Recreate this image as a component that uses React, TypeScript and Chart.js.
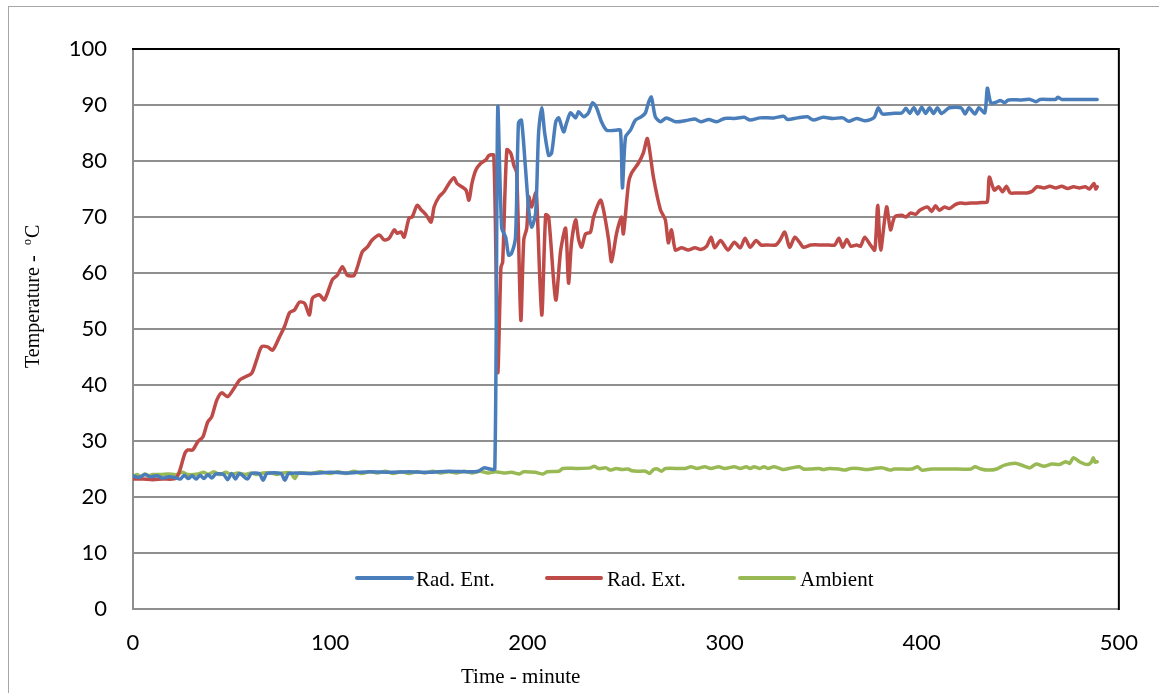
import React, { useEffect, useRef } from "react";
import { Chart, registerables } from "chart.js";
Chart.register(...registerables);

// ---- data ----
const seriesNames = ["Rad. Ent.", "Rad. Ext.", "Ambient"];
const seriesColors = ["#4A7EBB", "#BE4B48", "#98B954"];

const entTime = [
  0, 3, 6, 9, 12, 15, 18, 21, 24, 26, 28, 30, 32, 34, 36, 38, 40, 42, 46, 48, 50, 52, 54, 58, 60, 64, 66, 68, 75, 77, 79,
  90, 100, 110, 120, 130, 140, 150, 160, 170, 175, 178, 181, 183.5, 185, 187, 189, 190.5, 192, 194, 195.5, 197, 199,
  200.7, 202.2, 204.2, 205.7, 207.3, 208.8, 210.8, 212.3, 214.4, 215.9, 218.4, 219.9, 221.9, 224.5, 226, 228.5, 231,
  233.1, 235.1, 237.6, 240.2, 244.7, 247.2, 248.2, 249.8, 252.3, 254.8, 257.8, 259.9, 261.4, 262.9, 264.9, 267.5, 270.5,
  275.1, 281.6, 285, 288, 292, 296, 300, 305, 310, 313, 318, 325, 330, 332, 337, 342, 345, 350, 355, 360, 363, 367, 371,
  374, 376, 378, 380, 385, 390, 392, 394, 396, 398, 400, 402, 404, 406, 408, 410, 414, 420, 422, 424, 427, 429, 432,
  433.3, 435, 437, 440, 442, 444, 450, 455, 458, 460, 468, 469, 471, 480, 489,
];
const entTemp = [
  23.8, 23.5, 24, 23.6, 23.8, 23.4, 23.6, 23.5, 23.2, 23.9, 23.3, 23.8, 23.2, 23.9, 23.3, 24, 23.4, 24.1, 24, 23.1, 24.2,
  23.2, 24.2, 23.2, 24.2, 24.2, 23, 24.2, 24.2, 23, 24.2, 24.2, 24.4, 24.3, 24.5, 24.4, 24.5, 24.4, 24.6, 24.5, 24.6, 25.2,
  25, 25, 89.5, 68, 66.4, 63.2, 63.5, 66.4, 86.8, 87.3, 79, 71.3, 68.2, 70.7, 85, 89.5, 85, 81, 81.4, 87, 87.7, 85.2, 86.8,
  88.6, 87.7, 88.8, 87.9, 88.6, 90.4, 89.5, 87, 85.5, 85.5, 85.5, 75.2, 84.3, 85.5, 87.3, 87.9, 88.6, 90.4, 91.4, 87.9, 87,
  87.7, 87, 87.3, 87.5, 87, 87.4, 87, 87.6, 87.6, 87.8, 87.3, 87.7, 87.7, 88, 87.4, 87.7, 87.9, 87.3, 87.8, 87.6, 87.7,
  87.1, 87.6, 87.2, 87.4, 87.8, 89.5, 88.4, 88.5, 88.6, 89.4, 88.5, 89.5, 88.4, 89.6, 88.5, 89.5, 88.5, 89.5, 88.5, 89.5,
  89.5, 88.4, 89.5, 88.4, 89.5, 88.6, 93, 90.4, 90.4, 90.8, 90.4, 90.9, 90.9, 91, 90.6, 91, 91, 91.4, 91, 91, 91,
];

const extTime = [
  0, 5, 10, 15, 20, 22, 23.8, 26.3, 27.8, 30.3, 32.9, 35.4, 37.9, 39.9, 42.5, 45, 48, 51.6, 54.1, 56.6, 60.2, 62.7, 65.2,
  68.3, 70.8, 74.3, 76.8, 79.4, 81.9, 84.4, 87, 89.5, 91, 94.5, 97.1, 101.1, 103.6, 106.2, 108.7, 112.2, 116.3, 118.8,
  121.3, 124.9, 127.4, 129.9, 132.5, 134, 136, 137.5, 140, 141.6, 144.1, 146.1, 148.6, 151.2, 152.7, 155.2, 157.7, 160.3,
  162.8, 164.3, 166.8, 168.9, 170.4, 171.9, 173.9, 176.4, 179, 180.5, 183, 185, 186.6, 187.5, 189.6, 191.6, 193.1, 194.6,
  196.7, 198.2, 199.7, 200.7, 202.2, 204.2, 204.8, 207.3, 209.3, 210.8, 214.4, 216.9, 219.4, 220.9, 222.4, 224.5, 226,
  227.5, 229.5, 232, 233.6, 237.1, 238.6, 241.2, 242.7, 245.2, 247.7, 248.7, 251.3, 252.8, 256.3, 258.8, 260.9, 264,
  267.5, 270, 271.5, 273.1, 275.1, 278.2, 281.6, 285, 288, 291, 293.2, 295, 298, 301.8, 305, 308, 310.4, 313, 316, 318.5,
  322, 326, 328, 330.6, 333, 335.7, 338, 340, 343.8, 350, 353, 355.9, 358, 360, 362, 364, 367, 369, 371.1, 374, 376.2,
  377.7, 379.2, 382.2, 384.2, 386.3, 390, 392, 394.3, 397, 399, 402.9, 405, 407, 409, 411.5, 414, 417, 419.6, 422, 425,
  428.2, 431, 433.3, 434.3, 436.8, 439, 441, 443, 444.9, 448, 451, 453.5, 456, 458.5, 462, 465, 468, 471, 474, 477, 480,
  483, 485, 487.4, 488.3, 489,
];
const extTemp = [
  23.2, 23.2, 23.1, 23.2, 23.2, 23.4, 24.8, 27.8, 28.4, 28.4, 29.9, 30.7, 33.4, 34.3, 37.3, 38.6, 37.9, 39.6, 40.9, 41.4,
  42.1, 44.5, 46.8, 46.8, 46.2, 48.6, 50.4, 52.9, 53.4, 54.8, 54.6, 52.5, 55.5, 56.1, 55.2, 58.8, 59.6, 61.1, 59.6, 59.6,
  63.8, 64.6, 65.9, 66.8, 65.9, 66.2, 67.7, 67.1, 67.3, 66.4, 69.8, 70, 72.1, 71.3, 70.4, 69.1, 71.8, 73.6, 74.5, 76, 77,
  76, 75.4, 74.8, 73, 76, 78.4, 79.6, 80.2, 81, 81, 42.3, 61, 62, 82, 81.4, 79.3, 77.9, 51.6, 66, 68, 73.6, 71.8, 74.3, 73,
  52.5, 70.4, 70, 55.2, 64, 68, 58.2, 65.4, 69.5, 66, 64.6, 67, 67.3, 70, 73, 71.3, 66, 62, 67, 70, 67, 76, 77.8, 79.6,
  81.4, 84, 77, 71.3, 69.5, 65.4, 67.7, 64.1, 64.5, 64.1, 64.5, 64.2, 64.8, 66.4, 64.5, 65.8, 64.1, 65.5, 64.5, 66.2,
  64.6, 65.8, 65, 65, 65, 65.8, 67.3, 64.6, 66.4, 65.5, 64.6, 65, 65, 65, 65, 66.2, 64.6, 66, 64.8, 65, 64.8, 66.4, 65,
  64.1, 72.1, 64.1, 71.8, 67.7, 70, 70.3, 70, 70.7, 70.5, 71.2, 71.8, 71, 72, 71.2, 71.8, 71.5, 72.2, 72.5, 72.4, 72.5,
  72.5, 72.6, 72.7, 77.1, 74.8, 75.4, 74.5, 75.5, 74.3, 74.3, 74.3, 74.3, 74.6, 75.4, 75.2, 75.5, 75.2, 75.5, 75.1, 75.4,
  75.2, 75.4, 75, 76, 75, 75.4,
];

const ambTime = [
  0, 2, 4, 6, 8, 10, 14, 18, 22, 25, 28, 33, 36, 38, 41, 44, 47, 50, 53, 57, 60, 63, 66, 70, 73, 76, 80, 82, 84, 90, 95,
  100, 104, 108, 112, 116, 120, 124, 128, 132, 136, 140, 144, 148, 152, 156, 160, 164, 168, 172, 176, 180, 184, 188, 192,
  196, 198, 204, 208, 210, 216, 218, 225, 232, 234, 236, 240, 242, 245, 248, 251, 253, 256, 260, 262, 264, 266, 268, 270,
  280, 283, 286, 290, 293, 297, 300, 305, 308, 311, 313, 315, 318, 320, 322, 325, 328, 330, 334, 338, 340, 344, 348, 350,
  353, 358, 361, 364, 368, 372, 376, 380, 384, 386, 395, 398, 400, 405, 415, 425, 427, 430, 434, 438, 442, 448, 452, 455,
  458, 462, 466, 470, 473, 475, 477, 480, 484, 486, 487, 488, 489,
];
const ambTemp = [
  23.5, 24, 23.6, 24.1, 23.8, 24, 24, 24.1, 24, 24.4, 24, 24.1, 24.4, 24, 24.5, 24, 24.4, 24, 24.3, 24, 24.3, 24, 24.3,
  24.3, 24, 24.3, 24.3, 23.3, 24.3, 24.2, 24.5, 24.2, 24.5, 24.2, 24.6, 24.2, 24.5, 24.3, 24.6, 24.2, 24.5, 24.2, 24.5,
  24.3, 24.6, 24.3, 24.5, 24.3, 24.6, 24.3, 24.6, 24.3, 24.5, 24.3, 24.4, 24.1, 24.5, 24.4, 24.1, 24.5, 24.6, 25.1, 25.1,
  25.2, 25.5, 25.1, 25.2, 24.8, 25.1, 24.9, 25, 24.7, 24.6, 24.6, 24.2, 24.9, 25, 24.6, 25.1, 25.1, 25.4, 25.1, 25.4,
  25.1, 25.4, 25.1, 25.4, 25.1, 25.4, 25.1, 25.4, 25.1, 25.4, 25.1, 25.4, 25.1, 24.9, 25.2, 25.4, 25, 25, 25.1, 24.9,
  25.1, 25, 24.8, 25.1, 25.1, 24.9, 25.1, 25.2, 24.8, 25, 25, 25.4, 24.8, 25, 25, 25, 25.4, 25, 24.8, 25, 25.7, 26, 25.5,
  25.2, 25.9, 25.5, 25.9, 25.8, 26.3, 26, 27, 26.3, 25.8, 26.2, 27, 26.2, 26.3,
];

const xTickValues = [0, 100, 200, 300, 400, 500];
const yTickValues = [0, 10, 20, 30, 40, 50, 60, 70, 80, 90, 100];
const xTitle = "Time - minute";
const yTitleParts = ["Temperature", "-", "o", "C"];

function toPoints(t: number[], v: number[]) {
  return t.map((x, i) => ({ x, y: v[i] }));
}

export default function App() {
  const ref = useRef<HTMLCanvasElement | null>(null);

  useEffect(() => {
    if (!ref.current) return;
    const decor = {
      id: "decor",
      beforeDraw(chart: any) {
        const ctx = chart.ctx;
        ctx.save();
        ctx.fillStyle = "#ffffff";
        ctx.fillRect(0, 0, chart.width, chart.height);
        ctx.strokeStyle = "#a6a6a6";
        ctx.lineWidth = 1;
        ctx.strokeRect(8.5, 6.5, 1400, 1000);
        ctx.restore();
      },
      afterDatasetsDraw(chart: any) {
        const { ctx, chartArea } = chart;
        ctx.save();
        ctx.strokeStyle = "#000000";
        ctx.lineWidth = 2;
        ctx.beginPath();
        ctx.moveTo(chartArea.left - 1, chartArea.top);
        ctx.lineTo(chartArea.right, chartArea.top);
        ctx.lineTo(chartArea.right, chartArea.bottom + 1);
        ctx.stroke();
        ctx.restore();
      },
      afterDraw(chart: any) {
        const ctx = chart.ctx;
        ctx.save();
        // legend
        const items = [
          [357, 412, 416],
          [547, 601, 607],
          [740, 794, 800],
        ];
        ctx.font = '21px "Liberation Serif"';
        ctx.textBaseline = "alphabetic";
        ctx.textAlign = "left";
        items.forEach((it, i) => {
          ctx.strokeStyle = seriesColors[i];
          ctx.lineWidth = 4;
          ctx.lineCap = "round";
          ctx.beginPath();
          ctx.moveTo(it[0], 578);
          ctx.lineTo(it[1], 578);
          ctx.stroke();
          ctx.fillStyle = "#000";
          ctx.fillText(seriesNames[i], it[2], 586);
        });
        // x title
        ctx.font = '21px "Liberation Serif"';
        ctx.fillText(xTitle, 461, 683);
        // y title rotated
        ctx.translate(39, 368);
        ctx.rotate(-Math.PI / 2);
        ctx.font = '20px "Liberation Serif"';
        ctx.fillText(yTitleParts[0], 0, 0);
        ctx.fillText(yTitleParts[1], 106, 0);
        ctx.font = '12px "Liberation Serif"';
        ctx.fillText(yTitleParts[2], 123, -8);
        ctx.font = '20px "Liberation Serif"';
        ctx.fillText(yTitleParts[3], 130, 0);
        ctx.restore();
      },
    };

    const chart = new Chart(ref.current, {
      type: "line",
      data: {
        datasets: [
          { label: seriesNames[0], data: toPoints(entTime, entTemp), borderColor: seriesColors[0] },
          { label: seriesNames[1], data: toPoints(extTime, extTemp), borderColor: seriesColors[1] },
          { label: seriesNames[2], data: toPoints(ambTime, ambTemp), borderColor: seriesColors[2] },
        ],
      },
      options: {
        responsive: false,
        animation: false,
        layout: { padding: { left: 0, top: 49, right: 37, bottom: 0 } },
        elements: {
          point: { radius: 0 },
          line: { borderWidth: 3.5, tension: 0.25, fill: false, borderCapStyle: "round", borderJoinStyle: "round" },
        },
        plugins: { legend: { display: false }, tooltip: { enabled: false } },
        scales: {
          x: {
            type: "linear",
            min: 0,
            max: 500,
            afterBuildTicks: (s: any) => {
              s.ticks = xTickValues.map((v) => ({ value: v }));
            },
            ticks: { color: "#000", padding: 21, font: { family: "Lato", size: 22 } },
            grid: { drawOnChartArea: false, drawTicks: false },
            border: { color: "#8f8f8f", width: 2 },
            afterFit: (s: any) => {
              s.height = 84;
            },
          },
          y: {
            type: "linear",
            min: 0,
            max: 100,
            afterBuildTicks: (s: any) => {
              s.ticks = yTickValues.map((v) => ({ value: v }));
            },
            ticks: { color: "#000", padding: 26, font: { family: "Lato", size: 22 } },
            grid: { color: "#8f8f8f", lineWidth: 2, drawTicks: false },
            border: { color: "#8f8f8f", width: 2 },
            afterFit: (s: any) => {
              s.width = 133;
            },
          },
        },
      },
      plugins: [decor],
    } as any);
    return () => chart.destroy();
  }, []);

  return (
    <div style={{ position: "fixed", left: 0, top: 0, width: 1159, height: 693, background: "#fff" }}>
      <canvas ref={ref} width={1159} height={693} style={{ display: "block", width: 1159, height: 693 }} />
    </div>
  );
}
